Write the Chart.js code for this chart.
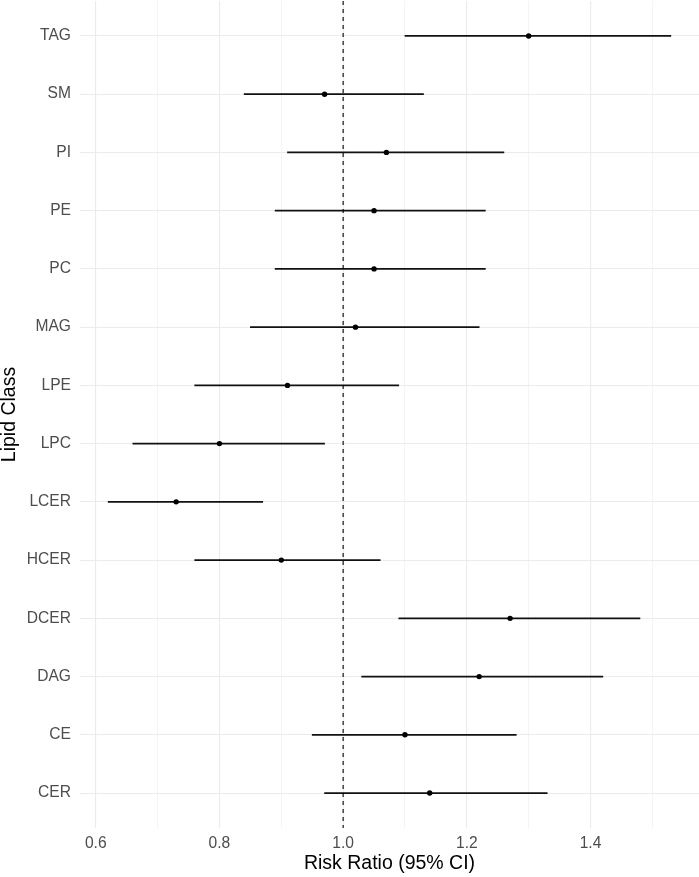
<!DOCTYPE html>
<html><head><meta charset="utf-8">
<script src="https://cdn.jsdelivr.net/npm/chart.js@4"></script>
<style>html,body{margin:0;padding:0;background:#fff}#wrap{width:699px;height:877px}</style>
</head><body><div id="wrap"><canvas id="c" width="699" height="877"></canvas></div>
<script>
const categories = ['TAG','SM','PI','PE','PC','MAG','LPE','LPC','LCER','HCER','DCER','DAG','CE','CER'];
const riskRatio  = [1.30,0.97,1.07,1.05,1.05,1.02,0.91,0.80,0.73,0.90,1.27,1.22,1.10,1.14];
const ciLower    = [1.10,0.84,0.91,0.89,0.89,0.85,0.76,0.66,0.62,0.76,1.09,1.03,0.95,0.97];
const ciUpper    = [1.53,1.13,1.26,1.23,1.23,1.22,1.09,0.97,0.87,1.06,1.48,1.42,1.28,1.33];
const xTicks      = [0.6,0.7,0.8,0.9,1.0,1.1,1.2,1.3,1.4,1.5];
const xMajorTicks = [0.6,0.8,1.0,1.2,1.4];
const referenceValue = 1;
const xTitle = 'Risk Ratio (95% CI)';
const yTitle = 'Lipid Class';

const FONT = "'Liberation Sans', Arial, Helvetica, sans-serif";
const lo = Math.min(...ciLower), hi = Math.max(...ciUpper);
const padX = (hi - lo) * 0.05;

const refLine = {
  id: 'refLine',
  afterDatasetsDraw(chart) {
    const {ctx, chartArea, scales} = chart;
    const x = scales.x.getPixelForValue(referenceValue);
    ctx.save();
    ctx.strokeStyle = '#000';
    ctx.lineWidth = 1.1;
    ctx.setLineDash([4, 4]);
    ctx.beginPath();
    ctx.moveTo(x, chartArea.top);
    ctx.lineTo(x, chartArea.bottom);
    ctx.stroke();
    ctx.restore();
  }
};

new Chart(document.getElementById('c'), {
  type: 'bar',
  data: {
    datasets: [
      {
        type: 'scatter',
        data: categories.map((c, i) => ({x: riskRatio[i], y: i})),
        backgroundColor: '#000',
        borderColor: '#000',
        pointRadius: 2.7,
        borderWidth: 0,
        order: 0
      },
      {
        type: 'bar',
        data: categories.map((c, i) => ({x: [ciLower[i], ciUpper[i]], y: i})),
        backgroundColor: '#111',
        borderWidth: 0,
        barThickness: 1.2,
        order: 1
      }
    ]
  },
  options: {
    indexAxis: 'y',
    responsive: false,
    animation: false,
    devicePixelRatio: 1,
    events: [],
    layout: {autoPadding: false, padding: {top: 1, right: 0, left: 0, bottom: 0}},
    plugins: {legend: {display: false}, tooltip: {enabled: false}},
    scales: {
      x: {
        type: 'linear',
        offset: false,
        min: lo - padX,
        max: hi + padX,
        afterBuildTicks: (s) => { s.ticks = xTicks.map(v => ({value: v})); },
        afterFit: (s) => { s.height = 49; s.paddingLeft = 0; s.paddingRight = 0; },
        border: {display: false},
        grid: {
          offset: false,
          color: '#ebebeb',
          lineWidth: (ctx) => (ctx.tick && xMajorTicks.includes(ctx.tick.value)) ? 1.1 : 0.55,
          drawTicks: false
        },
        ticks: {
          autoSkip: false, maxRotation: 0, padding: 6,
          color: '#4d4d4d',
          font: {family: FONT, size: 15.6},
          callback: (v) => xMajorTicks.includes(v) ? v.toFixed(1) : ''
        },
        title: {
          display: true, text: xTitle, color: '#000',
          font: {family: FONT, size: 19.5, lineHeight: 1},
          padding: {top: 0, bottom: 4}
        }
      },
      y: {
        type: 'linear',
        offset: false,
        reverse: true,
        min: -0.6,
        max: categories.length - 1 + 0.6,
        afterBuildTicks: (s) => { s.ticks = categories.map((c, i) => ({value: i})); },
        afterFit: (s) => { s.width = 80; s.paddingTop = 0; s.paddingBottom = 0; },
        border: {display: false},
        grid: {offset: false, color: '#ebebeb', lineWidth: 1.1, drawTicks: false},
        ticks: {
          autoSkip: false, padding: 9,
          color: '#4d4d4d',
          font: {family: FONT, size: 15.6},
          callback: (v) => categories[v]
        },
        title: {
          display: true, text: yTitle, color: '#000',
          font: {family: FONT, size: 19.5, lineHeight: 1},
          padding: {top: 0, bottom: 0}
        }
      }
    }
  },
  plugins: [refLine]
});
</script>
</body></html>
